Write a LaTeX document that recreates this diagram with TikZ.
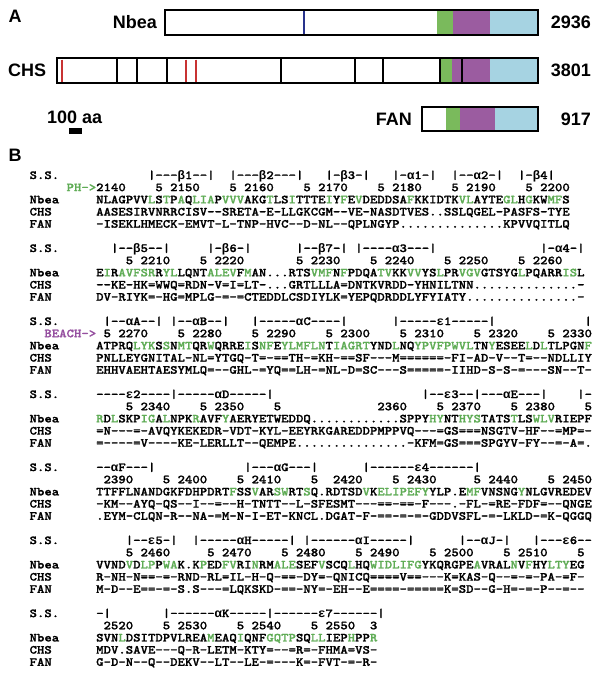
\documentclass[tikz,border=0pt]{standalone}
\usepackage{fontspec}
\setmainfont{Liberation Sans}
\newfontfamily\seqfont{lmmonolt10-bold.otf}[Ligatures=TeXOff, FakeStretch=1.143, FakeBold=1.2]
\newfontfamily\gkfont{Liberation Mono}[Ligatures=TeXOff]
\definecolor{barG}{RGB}{122,186,92}
\definecolor{barP}{RGB}{155,92,160}
\definecolor{barB}{RGB}{166,211,226}
\definecolor{redl}{RGB}{200,50,50}
\definecolor{navyl}{RGB}{40,50,140}
\definecolor{seqgreen}{RGB}{95,172,85}
\definecolor{beachp}{RGB}{150,80,160}
\newcommand\G[1]{\textcolor{seqgreen}{#1}}
\newcommand\gk[1]{{\gkfont\bfseries #1}}
\tikzset{
  seq/.style={font=\seqfont\fontsize{12.33}{12}\selectfont, anchor=base west, inner sep=0pt, text=black},
  lab/.style={font=\bfseries\fontsize{18}{18}\selectfont, inner sep=0pt},
  barline/.style={line width=2.4pt, draw=black},
  sep/.style={line width=2pt},
}
\begin{document}
\begin{tikzpicture}[x=1pt,y=-1pt]
\useasboundingbox (0,0) rectangle (602,673);
\fill[white] (0,0) rectangle (602,673);

% ---------------- Panel A ----------------
\node[lab] (labA) at (15,16) {A};
% Nbea
\fill[barG] (437,10) rectangle (453,35);
\fill[barP] (453,10) rectangle (490,35);
\fill[barB] (490,10) rectangle (538,35);
\draw[navyl, line width=1.3pt] (304,10) -- (304,35);
\draw[barline] (165,10) rectangle (538,35);
\node[lab, anchor=east] (nbeaL) at (157,22.5) {Nbea};
\node[lab, anchor=east] (nbeaN) at (591,22.5) {2936};
% CHS
\fill[barG] (440,58) rectangle (452,83);
\fill[barP] (452,58) rectangle (490,83);
\fill[barB] (490,58) rectangle (538,83);
\foreach \xx in {117,136.5,166.5,281,355,383,440,461.5}
  \draw[sep] (\xx,58) -- (\xx,83);
\foreach \xx in {62,186,196}
  \draw[sep, redl] (\xx,59.5) -- (\xx,81.5);
\draw[barline] (57,58) rectangle (538,83);
\node[lab, anchor=west] (chsL) at (8,70.5) {CHS};
\node[lab, anchor=east] (chsN) at (591,70.5) {3801};
% FAN
\fill[barG] (446,107) rectangle (460,131);
\fill[barP] (460,107) rectangle (495,131);
\fill[barB] (495,107) rectangle (538,131);
\draw[barline] (422,107) rectangle (538,131);
\node[lab, anchor=east] (fanL) at (412,119) {FAN};
\node[lab, anchor=east] (fanN) at (591,119) {917};
% scale bar
\node[lab, anchor=west] (scaleL) at (47,117) {100 aa};
\fill[black] (69,128) rectangle (82,134);

% ---------------- Panel B ----------------
\node[lab] (labB) at (15,155) {B};

\foreach \b in {0,...,6}{
  \node[seq] (lss\b) at ({96-7.4*9},{179+12.17*(6*\b)}) {S.S.};
  \node[seq] (lnb\b) at ({96-7.4*9},{179+12.17*(6*\b+2)}) {Nbea};
  \node[seq] (lch\b) at ({96-7.4*9},{179+12.17*(6*\b+3)}) {CHS};
  \node[seq] (lfa\b) at ({96-7.4*9},{179+12.17*(6*\b+4)}) {FAN};
}

% ---- Block 1 ----
\foreach \c/\t in {7/{|---\gk{β}1--|},18/{|---\gk{β}2---|},31/{|-\gk{β}3-|},40/{|-\gk{α}1-|},48/{|--\gk{α}2-|},57/{|-\gk{β}4|}}
  \node[seq] (s1-\c) at ({96+7.4*\c},{179+12.17*0}) {\t};
\node[seq, text=seqgreen] (ph) at ({96-7.4*4},{179+12.17*1}) {PH->};
\foreach \c/\t in {0/2140,8/5,10/2150,18/5,20/2160,28/5,30/2170,38/5,40/2180,48/5,50/2190,58/5,60/2200}
  \node[seq] (h1-\c) at ({96+7.4*\c},{179+12.17*1}) {\t};
\node[seq] (n1) at (96,{179+12.17*2}) {NLAGPVV\G{L}S\G{T}P\G{A}Q\G{LIA}P\G{VVV}AKG\G{T}LS\G{I}TTTE\G{I}Y\G{F}E\G{V}DEDDSA\G{F}KKIDTK\G{VL}AYTE\G{GL}H\G{G}KW\G{M}\G{F}S};
\node[seq] (c1) at (96,{179+12.17*3}) {AASESIRVNRRCISV--SRETA-E-LLGKCGM--VE-NASDTVES..SSLQGEL-PASFS-TYE};
\node[seq] (f1) at (96,{179+12.17*4}) {-ISEKLHMECK-EMVT-L-TNP-HVC--D-NL--QPLNGYP..............KPVVQITLQ};

% ---- Block 2 ----
\foreach \c/\t in {2/{|--\gk{β}5--|},15/{|-\gk{β}6-|},27/{|--\gk{β}7-|},35/{|----\gk{α}3---|},60/{|-\gk{α}4-|}}
  \node[seq] (s2-\c) at ({96+7.4*\c},{179+12.17*6}) {\t};
\foreach \c/\t in {4/5,6/2210,14/5,16/2220,27/5,29/2230,37/5,39/2240,47/5,49/2250,57/5,59/2260}
  \node[seq] (h2-\c) at ({96+7.4*\c},{179+12.17*7}) {\t};
\node[seq] (n2) at (96,{179+12.17*8}) {E\G{I}R\G{AVFSR}R\G{YL}LQNT\G{ALEV}F\G{M}AN...RTS\G{VMF}N\G{F}PDQA\G{TV}KK\G{VV}YS\G{L}PR\G{VGV}GTSYG\G{L}PQARR\G{IS}L};
\node[seq] (c2) at (96,{179+12.17*9}) {--KE-HK=WWQ=RDN-V=I=LT-...GRTLLLA=DNTKVRDD-YHNILTNN..............-};
\node[seq] (f2) at (96,{179+12.17*10}) {DV-RIYK=-HG=MPLG-=-=CTEDDLCSDIYLK=YEPQDRDDLYFYIATY...............-};

% ---- Block 3 ----
\foreach \c/\t in {1/{|--\gk{α}A--|},10/{|--\gk{α}B--|},21/{|-----\gk{α}C----|},40/{|-----\gk{ε}1-----|},66/{|}}
  \node[seq] (s3-\c) at ({96+7.4*\c},{179+12.17*12}) {\t};
\node[seq, text=beachp] (beach) at ({96-7.4*7},{179+12.17*13}) {BEACH->};
\foreach \c/\t in {1/5,3/2270,11/5,13/2280,21/5,23/2290,31/5,33/2300,41/5,43/2310,51/5,53/2320,61/5,63/2330}
  \node[seq] (h3-\c) at ({96+7.4*\c},{179+12.17*13}) {\t};
\node[seq] (n3) at (96,{179+12.17*14}) {ATPRQ\G{LYK}S\G{S}N\G{MT}QR\G{W}QRRE\G{I}S\G{NF}E\G{YLMFLN}T\G{IAGRT}YND\G{L}NQ\G{YPVFPWVL}TN\G{Y}ESEE\G{L}D\G{L}TLPGN\G{F}};
\node[seq] (c3) at (96,{179+12.17*15}) {PNLLEYGNITAL-NL=YTGQ-T=-==TH-=KH-==SF---M======-FI-AD-V--T=--NDLLIY};
\node[seq] (f3) at (96,{179+12.17*16}) {EHHVAEHTAESYMLQ=--GHL-=YQ==LH-=NL-D=SC---S=====-IIHD-S-S-=---SN--T-};

% ---- Block 4 ----
\foreach \c/\t in {0/{----\gk{ε}2----|-----\gk{α}D-----|},44/{|--\gk{ε}3--|---\gk{α}E---|},65/{|-}}
  \node[seq] (s4-\c) at ({96+7.4*\c},{179+12.17*18}) {\t};
\foreach \c/\t in {4/5,6/2340,14/5,16/2350,24/5,38/2360,46/5,48/2370,56/5,58/2380,66/5}
  \node[seq] (h4-\c) at ({96+7.4*\c},{179+12.17*19}) {\t};
\node[seq] (n4) at (96,{179+12.17*20}) {\G{R}D\G{L}SKP\G{IG}A\G{L}NPK\G{R}AVF\G{Y}AERYETWEDDQ............SPPY\G{HY}NT\G{HYS}TATS\G{T}LS\G{WLV}RIEPF};
\node[seq] (c4) at (96,{179+12.17*21}) {=N---=-AVQYKEKEDR-VDT-KYL-EEYRKGAREDDPMPPVQ---=GS===NSGTV-HF--=MP=-};
\node[seq] (f4) at (96,{179+12.17*22}) {=----=V----KE-LERLLT--QEMPE...............-KFM=GS===SPGYV-FY--=-A=.};

% ---- Block 5 ----
\foreach \c/\t in {0/{--\gk{α}F---|},20/{|---\gk{α}G---|},36/{|------\gk{ε}4------|}}
  \node[seq] (s5-\c) at ({96+7.4*\c},{179+12.17*24}) {\t};
\foreach \c/\t in {1/2390,9/5,11/2400,19/5,21/2410,29/5,32/2420,40/5,42/2430,51/5,53/2440,61/5,63/2450}
  \node[seq] (h5-\c) at ({96+7.4*\c},{179+12.17*25}) {\t};
\node[seq] (n5) at (96,{179+12.17*26}) {TTFFLNANDGKFDHPDRT\G{F}SS\G{V}AR\G{SW}RT\G{S}Q.RDTSD\G{V}K\G{ELIPEFY}YLP.E\G{MF}VNSNG\G{Y}NLGVREDEV};
\node[seq] (c5) at (96,{179+12.17*27}) {-KM--AYQ-QS--I--=--H-TNTT--L-SFESMT---==-==-F---.-FL-=RE-FDF=--QNGE};
\node[seq] (f5) at (96,{179+12.17*28}) {.EYM-CLQN-R--NA-=M-N-I-ET-KNCL.DGAT-F-==-=-=-GDDVSFL-=-LKLD-=K-QGGQ};

% ---- Block 6 ----
\foreach \c/\t in {4/{|--\gk{ε}5-|},13/{|-----\gk{α}H-----|},28/{|------\gk{α}I-----|},49/{|--\gk{α}J-|},59/{|---\gk{ε}6--}}
  \node[seq] (s6-\c) at ({96+7.4*\c},{179+12.17*30}) {\t};
\foreach \c/\t in {4/5,6/2460,15/5,17/2470,25/5,27/2480,35/5,37/2490,45/5,47/2500,55/5,57/2510,65/5}
  \node[seq] (h6-\c) at ({96+7.4*\c},{179+12.17*31}) {\t};
\node[seq] (n6) at (96,{179+12.17*32}) {VVND\G{V}D\G{LP}P\G{WA}K.K\G{P}ED\G{FV}RI\G{N}RM\G{ALE}SEF\G{V}SCQ\G{L}HQ\G{WIDLIFG}YKQRGPE\G{A}VRAL\G{N}V\G{F}HY\G{LTY}EG};
\node[seq] (c6) at (96,{179+12.17*33}) {R-NH-N==-=-RND-RL=IL-H-Q-==-DY=-QNICQ====V==---K=KAS-Q--=-=-PA-=F-};
\node[seq] (f6) at (96,{179+12.17*34}) {M-D--E==-=-S.S---=LQKSKD-==-NY=-EH--E====-=====K=SD--G-H=-=-P--=--};

% ---- Block 7 ----
\foreach \c/\t in {0/{-|},9/{|------\gk{α}K-----|------\gk{ε}7------|}}
  \node[seq] (s7-\c) at ({96+7.4*\c},{179+12.17*36}) {\t};
\foreach \c/\t in {1/2520,9/5,11/2530,19/5,21/2540,29/5,31/2550,37/3}
  \node[seq] (h7-\c) at ({96+7.4*\c},{179+12.17*37}) {\t};
\node[seq] (n7) at (96,{179+12.17*38}) {SVN\G{L}DSITDPVLREA\G{M}EAQ\G{I}QNF\G{GQTP}SQ\G{LL}IEP\G{H}PP\G{R}};
\node[seq] (c7) at (96,{179+12.17*39}) {MDV.SAVE---Q-R-LETM-KTY=--=R=-FHMA=VS-};
\node[seq] (f7) at (96,{179+12.17*40}) {G-D-N--Q--DEKV--LT--LE-=---K=-FVT-=-R-};
\end{tikzpicture}
\end{document}
